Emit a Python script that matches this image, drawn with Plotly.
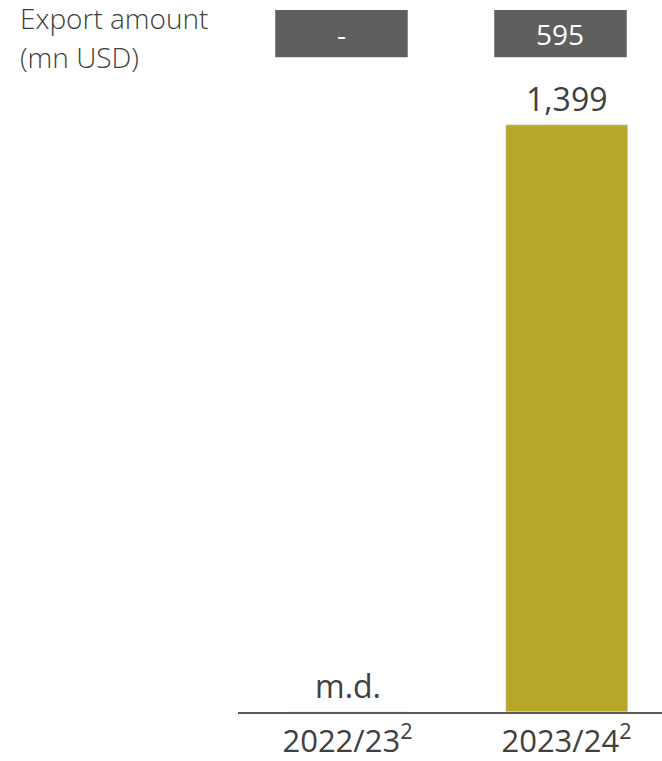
import plotly.graph_objects as go

# Export figures by marketing year
years = ["2022/23", "2023/24"]
tick_labels = ["2022/23<sup>2</sup>", "2023/24<sup>2</sup>"]
volume = [None, 1399]          # bar values (None = missing data)
export_amount = ["-", "595"]   # export amount, mn USD
title_lines = ["Export amount", "(mn USD)"]

BAR_COLOR = "#b7a628"
BOX_COLOR = "#5f5f5f"
TEXT_COLOR = "#404040"
FONT = "Open Sans"

fig = go.Figure()
fig.add_trace(go.Bar(
    x=list(range(len(years))),
    y=[v if v is not None else 0 for v in volume],
    width=0.557,
    marker_color=BAR_COLOR,
    hoverinfo="skip",
))

annotations = []
shapes = []
for i, v in enumerate(volume):
    label = f"{v:,}" if v is not None else "m.d."
    annotations.append(dict(
        x=i, y=v if v is not None else 0,
        xref="x", yref="y", text=label, showarrow=False,
        yanchor="bottom", yshift=3,
        font=dict(family=FONT, size=32, color=TEXT_COLOR),
    ))
    # export amount box above the plot
    shapes.append(dict(
        type="rect", xref="x", yref="paper",
        x0=i - 0.33, x1=i + 0.275, y0=1.070, y1=1.147,
        fillcolor=BOX_COLOR, line=dict(width=0), layer="above",
    ))
    annotations.append(dict(
        x=i - 0.0275, y=1.1085, xref="x", yref="paper",
        text=export_amount[i], showarrow=False,
        xanchor="center", yanchor="middle",
        font=dict(family=FONT, size=28, color="white"),
    ))

# two-line heading at the top left
for line, ypos in zip(title_lines, [1.134, 1.070]):
    annotations.append(dict(
        x=-0.519, y=ypos, xref="paper", yref="paper",
        text=line, showarrow=False,
        xanchor="left", yanchor="middle", align="left",
        font=dict(family=FONT, size=28, color=TEXT_COLOR, weight=300),
    ))

fig.update_layout(
    width=662, height=761,
    margin=dict(l=238, r=0, t=100, b=49),
    plot_bgcolor="white", paper_bgcolor="white",
    showlegend=False,
    bargap=0,
    annotations=annotations,
    shapes=shapes,
    xaxis=dict(
        range=[-0.5, 1.436],
        tickmode="array", tickvals=list(range(len(years))), ticktext=tick_labels,
        showgrid=False, zeroline=False,
        showline=True, linecolor="#595959", linewidth=2,
        ticks="", ticklabelstandoff=1, automargin=False,
        tickfont=dict(family=FONT, size=31, color=TEXT_COLOR),
        fixedrange=True,
    ),
    yaxis=dict(
        range=[0, 1399 * 612 / 587],
        visible=False, showgrid=False, zeroline=False,
        fixedrange=True,
    ),
)

fig.write_html("out.html")
